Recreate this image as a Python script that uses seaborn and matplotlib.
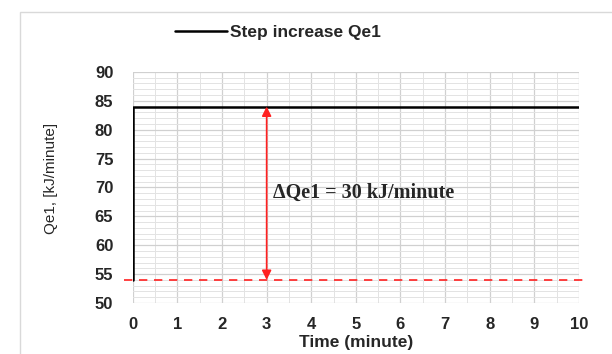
import numpy as np
import pandas as pd
import matplotlib.pyplot as plt
import seaborn as sns
from matplotlib.patches import Rectangle

# step response data
time_min = [0, 0, 10]
qe1 = [54, 84, 84]
base_qe1 = 54
new_qe1 = 84
arrow_t = 3

sns.set_style("white")
plt.rcParams["font.family"] = ["Liberation Sans", "DejaVu Sans"]

fig = plt.figure(figsize=(6.12, 3.54), dpi=100)
ax = fig.add_axes([0.217, 0.144, 0.729, 0.653])

# outer chart border
fig.patches.append(Rectangle((0.032, -0.05), 1.0, 1.016, transform=fig.transFigure,
                             fill=False, edgecolor="#d9d9d9", lw=1.0))

df = pd.DataFrame({"Time": time_min, "Qe1": qe1})
sns.lineplot(data=df, x="Time", y="Qe1", sort=False, estimator=None, color="black",
             lw=1.8, ax=ax, label="Step increase Qe1", zorder=3)

# initial level, dashed red, extends slightly past the axes
ax.plot([-0.2, 10.2], [base_qe1, base_qe1], color="#ff2020", ls=(0, (5, 4)),
        lw=1.2, clip_on=False, zorder=2)

ax.annotate("", xy=(arrow_t, base_qe1), xytext=(arrow_t, new_qe1),
            arrowprops=dict(arrowstyle="<|-|>", color="#ff2020", lw=1.2,
                            mutation_scale=14, shrinkA=0, shrinkB=0), zorder=4)
ax.text(3.15, 69.0, "\u0394Qe1 = 30 kJ/minute", family="Liberation Serif",
        fontweight="bold", fontsize=14.5, va="center", ha="left")

ax.set_xlim(0, 10)
ax.set_ylim(50, 90)
ax.set_xticks(np.arange(0, 11, 1))
ax.set_yticks(np.arange(50, 91, 5))
ax.set_xticks(np.arange(0, 10.01, 0.5), minor=True)
ax.set_yticks(np.arange(50, 90.01, 1), minor=True)
ax.grid(which="major", color="#d0d0d0", lw=0.9)
ax.grid(which="minor", color="#e3e3e3", lw=0.7)
ax.set_axisbelow(True)
for s in ax.spines.values():
    s.set_visible(False)
ax.tick_params(which="both", length=0, labelsize=12)
ax.tick_params(axis="y", pad=14)
ax.tick_params(axis="x", pad=10)
for lab in ax.get_xticklabels() + ax.get_yticklabels():
    lab.set_fontweight("bold")

ax.set_xlabel("Time (minute)", fontweight="bold", fontsize=12.5, labelpad=2)
ax.set_ylabel("Qe1, [kJ/minute]", fontsize=11)
ax.yaxis.set_label_coords(-0.168, 0.54)

ax.legend(loc="center", bbox_to_anchor=(0.325, 1.17), frameon=False,
          prop={"weight": "bold", "size": 12.5}, handlelength=3.0, handletextpad=0.2)

fig.savefig("out.png", dpi=100)
